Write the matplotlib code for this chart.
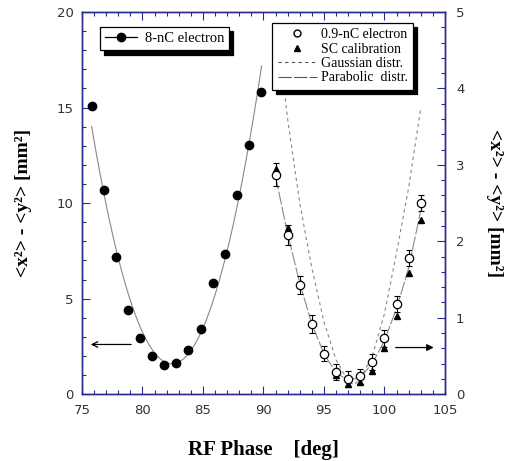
import matplotlib.pyplot as plt
import numpy as np
from matplotlib.lines import Line2D

# 8-nC electron data (left axis)
phase_8nc = [75.8, 76.8, 77.8, 78.8, 79.8, 80.8, 81.8, 82.8, 83.8, 84.8,
             85.8, 86.8, 87.8, 88.8, 89.8]
sig_8nc = [15.1, 10.7, 7.2, 4.4, 2.95, 2.0, 1.5, 1.65, 2.3, 3.4,
           5.8, 7.35, 10.4, 13.05, 15.8]

# 0.9-nC electron and SC calibration (right axis)
phase_09 = [91, 92, 93, 94, 95, 96, 97, 98, 99, 100, 101, 102, 103]
sig_09 = [2.87, 2.08, 1.43, 0.92, 0.53, 0.29, 0.2, 0.235, 0.42, 0.73,
          1.18, 1.78, 2.5]
err_09 = [0.15, 0.13, 0.12, 0.12, 0.1, 0.1, 0.1, 0.1, 0.1, 0.11,
          0.1, 0.1, 0.1]
sig_sc = [2.95, 2.17, 1.45, 0.93, 0.53, 0.25, 0.13, 0.16, 0.3, 0.6,
          1.02, 1.58, 2.28]

# calculated curves (right axis)
phase_gauss = [91.8, 92, 93, 94, 95, 96, 97, 97.5, 98, 99, 100, 101, 102, 103]
sig_gauss = [3.87, 3.6, 2.5, 1.65, 0.95, 0.45, 0.17, 0.12, 0.2, 0.5,
             1.05, 1.85, 2.7, 3.74]
phase_para = [91, 92, 93, 94, 95, 96, 97, 98, 99, 100, 101, 102, 103]
sig_para = [2.85, 2.1, 1.45, 0.92, 0.53, 0.28, 0.18, 0.22, 0.4, 0.7,
            1.12, 1.65, 2.4]

axis_col = '#2b2b8f'
tick_col = '#333333'
serif = 'Liberation Serif'
ylab = '<x²> - <y²> [mm²]'

fig = plt.figure(figsize=(5.12, 4.61), dpi=100)
ax = fig.add_axes([0.160, 0.145, 0.709, 0.829])
ax2 = ax.twinx()

# 8-nC: parabola fit through points
coef = np.polyfit(phase_8nc, sig_8nc, 2)
xf = np.linspace(75.8, 89.85, 200)
ax.plot(xf, np.polyval(coef, xf), color='#888888', lw=0.8)
ax.plot(phase_8nc, sig_8nc, 'o', color='black', ms=6)

# 0.9-nC and SC calibration
ax2.plot(phase_gauss, sig_gauss, color='#888888', lw=0.8, dashes=(3, 3))
ax2.plot(phase_para, sig_para, color='#888888', lw=0.8, dashes=(12, 2))
ax2.errorbar(phase_09, sig_09, yerr=err_09, fmt='none', ecolor='black',
             elinewidth=0.8, capsize=2.5, capthick=0.8)
ax2.plot(phase_09, sig_sc, '^', color='black', ms=5)
ax2.plot(phase_09, sig_09, 'o', mfc='white', mec='black', mew=0.9, ms=6)

# axes
ax.set_xlim(75, 105)
ax.set_ylim(0, 20)
ax2.set_ylim(0, 5)
ax.set_xticks(range(75, 106, 5))
ax.set_xticks(range(75, 106, 1), minor=True)
ax.set_yticks(range(0, 21, 5))
ax.set_yticks(range(0, 21, 1), minor=True)
ax2.set_yticks(range(0, 6))
ax2.set_yticks(np.arange(0, 5.01, 0.2), minor=True)

for a in (ax, ax2):
    for s in a.spines.values():
        s.set_color(axis_col)
        s.set_linewidth(1.0)
    a.tick_params(which='both', direction='in', color=axis_col,
                  labelcolor=tick_col, labelsize=9.5, width=0.8)
    a.tick_params(which='major', length=6)
    a.tick_params(which='minor', length=3)
ax.tick_params(which='both', top=True, right=False)
ax.tick_params(axis='x', pad=7)
ax.tick_params(axis='y', pad=6)
ax2.tick_params(axis='y', pad=8)

ax.set_xlabel('RF Phase    [deg]', fontfamily=serif, fontweight='bold',
              fontsize=15, labelpad=17)
ax.set_ylabel(ylab, fontfamily=serif, fontweight='bold', fontsize=14,
              labelpad=18)
ax2.set_ylabel(ylab, fontfamily=serif, fontweight='bold', fontsize=14,
               rotation=270, labelpad=28)

# arrows
ax.annotate('', xy=(75.5, 2.6), xytext=(79.3, 2.6),
            arrowprops=dict(arrowstyle='->', color='black', lw=0.9))
ax2.annotate('', xy=(104.3, 0.61), xytext=(100.7, 0.61),
             arrowprops=dict(arrowstyle='-|>', color='black', lw=0.9))

# legends
shadow = {'color': 'black', 'alpha': 1.0, 'ox': 3, 'oy': -3}
h1 = [Line2D([], [], color='black', marker='o', ms=6, lw=0.9)]
leg1 = ax2.legend(h1, ['8-nC electron'], loc='upper left',
                  bbox_to_anchor=(0.03, 0.98), prop={'family': serif, 'size': 10.5},
                  fancybox=False, edgecolor='black', framealpha=1,
                  shadow=shadow, handlelength=2.2, handletextpad=0.5,
                  borderpad=0.35)
leg1.get_frame().set_linewidth(0.9)
ax2.add_artist(leg1)

h2 = [Line2D([], [], ls='none', marker='o', mfc='white', mec='black', ms=5),
      Line2D([], [], ls='none', marker='^', color='black', ms=5),
      Line2D([], [], color='#555555', lw=0.8, dashes=(3, 3)),
      Line2D([], [], color='#555555', lw=0.8, dashes=(12, 2))]
leg2 = ax2.legend(h2, ['0.9-nC electron', 'SC calibration', 'Gaussian distr.',
                       'Parabolic  distr.'],
                  loc='upper right', bbox_to_anchor=(0.932, 0.99),
                  prop={'family': serif, 'size': 10}, fancybox=False,
                  edgecolor='black', framealpha=1, shadow=shadow,
                  handlelength=2.8, handletextpad=0.3, labelspacing=0.1,
                  borderpad=0.4)
leg2.get_frame().set_linewidth(0.9)

fig.savefig('out.png', dpi=100)
